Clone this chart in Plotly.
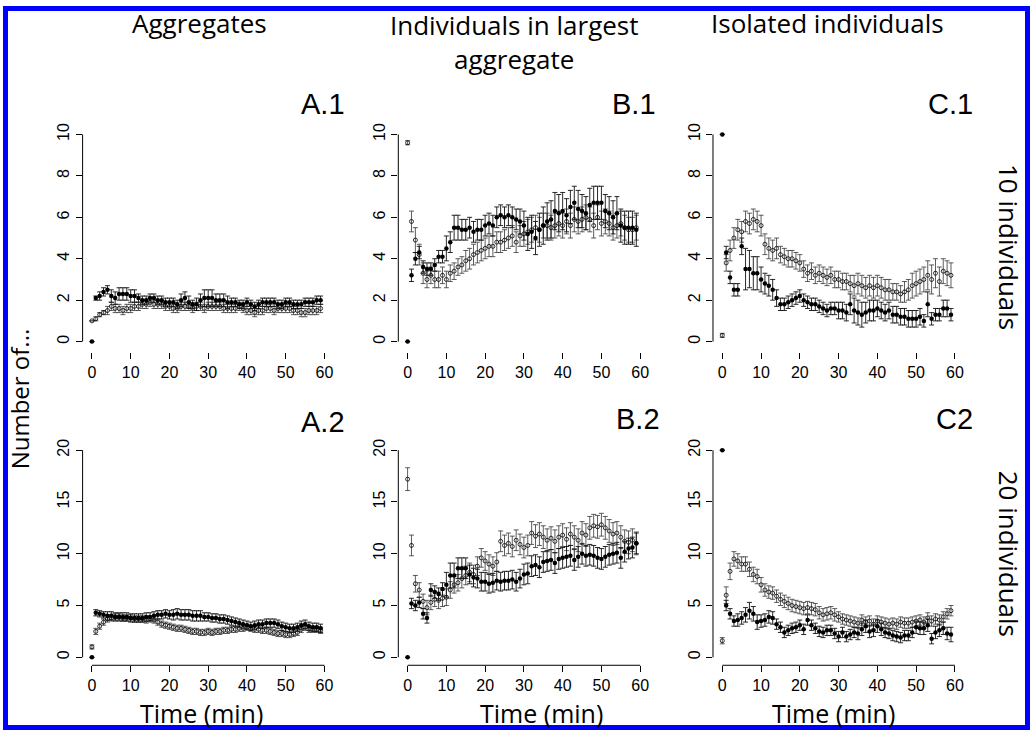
import plotly.graph_objects as go

# ---------------- data ----------------
time_min = list(range(60))

A1_filled = [0.0, 2.1, 2.2, 2.4, 2.5, 2.2, 2.1, 2.3, 2.3, 2.3,
             2.2, 2.2, 2.1, 2.0, 2.0, 2.1, 2.1, 2.0, 2.0, 1.9,
             1.9, 1.9, 1.8, 2.0, 2.1, 1.9, 1.8, 1.8, 2.0, 2.1,
             2.1, 2.1, 2.0, 2.0, 2.0, 1.9, 1.9, 1.9, 1.8, 1.8,
             1.9, 1.8, 1.7, 1.8, 1.9, 1.9, 1.9, 1.9, 1.8, 1.8,
             1.9, 1.9, 1.8, 1.8, 1.8, 1.9, 1.9, 1.9, 2.0, 2.0]
A1_filled_err = [0.0, 0.1, 0.2, 0.2, 0.2, 0.3, 0.3, 0.3, 0.3, 0.3,
                 0.3, 0.3, 0.2, 0.2, 0.2, 0.2, 0.2, 0.2, 0.2, 0.2,
                 0.2, 0.2, 0.2, 0.3, 0.3, 0.3, 0.2, 0.3, 0.3, 0.4,
                 0.4, 0.4, 0.3, 0.3, 0.3, 0.3, 0.2, 0.2, 0.2, 0.2,
                 0.2, 0.2, 0.2, 0.2, 0.2, 0.2, 0.2, 0.2, 0.2, 0.2,
                 0.2, 0.2, 0.2, 0.2, 0.2, 0.2, 0.2, 0.2, 0.2, 0.2]
A1_open = [1.0, 1.1, 1.3, 1.4, 1.5, 1.7, 1.6, 1.6, 1.5, 1.6,
           1.6, 1.7, 1.7, 1.8, 1.8, 1.9, 1.8, 1.8, 1.8, 1.7,
           1.7, 1.6, 1.6, 1.7, 1.7, 1.7, 1.6, 1.7, 1.7, 1.6,
           1.7, 1.7, 1.7, 1.7, 1.6, 1.6, 1.6, 1.6, 1.7, 1.6,
           1.5, 1.5, 1.4, 1.5, 1.5, 1.6, 1.6, 1.5, 1.6, 1.6,
           1.6, 1.6, 1.5, 1.5, 1.4, 1.4, 1.5, 1.5, 1.5, 1.6]
A1_open_err = [0.0, 0.1, 0.1, 0.1, 0.2, 0.2, 0.2, 0.2, 0.2, 0.2,
               0.2, 0.2, 0.2, 0.2, 0.2, 0.2, 0.2, 0.2, 0.2, 0.2,
               0.2, 0.2, 0.2, 0.2, 0.2, 0.2, 0.2, 0.2, 0.2, 0.2,
               0.2, 0.2, 0.2, 0.2, 0.2, 0.2, 0.2, 0.2, 0.2, 0.2,
               0.2, 0.2, 0.2, 0.2, 0.2, 0.2, 0.2, 0.2, 0.2, 0.2,
               0.2, 0.2, 0.2, 0.2, 0.2, 0.2, 0.2, 0.2, 0.2, 0.2]

A2_filled = [0.0, 4.3, 4.2, 4.1, 4.0, 4.0, 3.9, 3.9, 3.9, 3.9,
             3.8, 3.8, 3.8, 3.8, 3.9, 3.9, 4.0, 4.1, 4.1, 4.2,
             4.1, 4.1, 4.2, 4.1, 4.1, 4.1, 4.0, 4.0, 4.0, 3.9,
             3.9, 3.8, 3.8, 3.7, 3.7, 3.6, 3.5, 3.4, 3.3, 3.2,
             3.1, 3.0, 3.1, 3.2, 3.2, 3.3, 3.3, 3.3, 3.2, 3.0,
             2.9, 2.8, 2.8, 2.9, 3.1, 3.2, 3.0, 2.9, 2.9, 2.8]
A2_filled_err = [0.0, 0.3, 0.3, 0.3, 0.4, 0.4, 0.4, 0.4, 0.4, 0.4,
                 0.4, 0.4, 0.4, 0.4, 0.4, 0.4, 0.4, 0.4, 0.4, 0.4,
                 0.4, 0.5, 0.5, 0.5, 0.5, 0.5, 0.5, 0.5, 0.5, 0.4,
                 0.4, 0.4, 0.4, 0.4, 0.4, 0.4, 0.4, 0.4, 0.4, 0.4,
                 0.4, 0.4, 0.4, 0.4, 0.4, 0.4, 0.4, 0.4, 0.4, 0.4,
                 0.4, 0.4, 0.4, 0.4, 0.4, 0.4, 0.4, 0.4, 0.4, 0.4]
A2_open = [1.0, 2.5, 3.0, 3.4, 3.7, 3.8, 3.9, 3.9, 3.8, 3.8,
           3.8, 3.7, 3.7, 3.7, 3.6, 3.7, 3.6, 3.4, 3.2, 3.1,
           3.0, 2.9, 2.8, 2.8, 2.7, 2.6, 2.5, 2.5, 2.4, 2.4,
           2.5, 2.4, 2.5, 2.5, 2.6, 2.6, 2.7, 2.7, 2.8, 2.8,
           2.9, 2.8, 2.7, 2.7, 2.6, 2.6, 2.5, 2.4, 2.3, 2.3,
           2.2, 2.2, 2.3, 2.4, 2.7, 2.9, 2.7, 2.7, 2.7, 2.6]
A2_open_err = [0.2, 0.3, 0.3, 0.3, 0.3, 0.3, 0.3, 0.3, 0.3, 0.3,
               0.3, 0.3, 0.3, 0.3, 0.3, 0.3, 0.3, 0.3, 0.3, 0.3,
               0.3, 0.3, 0.3, 0.3, 0.3, 0.3, 0.3, 0.3, 0.3, 0.3,
               0.3, 0.3, 0.3, 0.3, 0.3, 0.3, 0.3, 0.3, 0.3, 0.3,
               0.3, 0.3, 0.3, 0.3, 0.3, 0.3, 0.3, 0.3, 0.3, 0.3,
               0.3, 0.3, 0.3, 0.3, 0.3, 0.3, 0.3, 0.3, 0.3, 0.3]

B1_filled = [0.0, 3.2, 4.0, 4.3, 3.6, 3.5, 3.5, 3.7, 4.1, 4.1,
             4.5, 4.8, 5.5, 5.5, 5.4, 5.4, 5.5, 5.3, 5.4, 5.4,
             5.6, 5.7, 5.6, 6.0, 6.1, 6.0, 6.1, 6.0, 5.9, 5.8,
             5.6, 5.2, 5.3, 5.0, 5.4, 5.6, 5.8, 5.9, 6.3, 6.2,
             6.3, 6.1, 6.5, 6.7, 6.4, 6.3, 6.2, 6.6, 6.7, 6.7,
             6.7, 6.3, 6.2, 6.0, 6.2, 5.6, 5.5, 5.5, 5.5, 5.4]
B1_filled_err = [0.0, 0.3, 0.3, 0.3, 0.3, 0.3, 0.3, 0.3, 0.3, 0.3,
                 0.6, 0.5, 0.6, 0.6, 0.5, 0.5, 0.5, 0.5, 0.5, 0.5,
                 0.5, 0.5, 0.5, 0.5, 0.5, 0.5, 0.5, 0.5, 0.5, 0.6,
                 0.7, 0.8, 0.8, 0.8, 0.8, 0.9, 0.9, 0.9, 0.9, 0.9,
                 0.9, 0.8, 0.8, 0.8, 0.9, 0.8, 0.8, 0.8, 0.8, 0.8,
                 0.8, 0.8, 0.8, 0.8, 0.8, 0.8, 0.8, 0.8, 0.8, 0.8]
B1_open = [9.6, 5.8, 4.9, 4.2, 3.3, 3.0, 3.2, 3.0, 3.0, 3.2,
           3.0, 3.3, 3.4, 3.6, 3.7, 3.9, 4.0, 4.2, 4.3, 4.4,
           4.5, 4.6, 4.6, 4.8, 4.8, 4.9, 5.0, 5.1, 4.8, 5.1,
           5.2, 5.3, 5.4, 5.5, 5.4, 5.6, 5.6, 5.5, 5.6, 5.7,
           5.6, 5.8, 5.6, 5.9, 5.8, 5.9, 6.0, 5.9, 5.6, 6.0,
           5.7, 5.8, 5.7, 5.5, 5.6, 5.7, 5.5, 5.4, 5.4, 5.5]
B1_open_err = [0.1, 0.5, 0.6, 0.5, 0.5, 0.4, 0.4, 0.4, 0.4, 0.4,
               0.4, 0.4, 0.4, 0.4, 0.4, 0.5, 0.5, 0.5, 0.5, 0.5,
               0.5, 0.5, 0.5, 0.5, 0.5, 0.5, 0.5, 0.5, 0.5, 0.5,
               0.6, 0.6, 0.6, 0.6, 0.6, 0.6, 0.6, 0.6, 0.6, 0.6,
               0.6, 0.6, 0.6, 0.6, 0.6, 0.6, 0.6, 0.6, 0.6, 0.6,
               0.6, 0.6, 0.6, 0.6, 0.6, 0.6, 0.6, 0.6, 0.6, 0.6]

B2_filled = [0.0, 5.2, 5.0, 5.3, 4.2, 3.8, 6.5, 6.3, 6.1, 6.6,
             7.0, 7.9, 7.9, 8.6, 8.6, 8.6, 8.0, 7.7, 7.6, 7.3,
             7.3, 7.1, 7.2, 7.4, 7.3, 7.4, 7.4, 7.5, 7.3, 7.6,
             8.0, 8.1, 8.8, 8.9, 8.7, 9.2, 9.3, 9.4, 9.1, 9.5,
             9.6, 9.7, 9.8, 9.4, 9.7, 10.0, 9.8, 9.9, 9.8, 9.6,
             9.5, 9.7, 9.9, 10.0, 10.1, 9.6, 10.2, 10.5, 10.6, 11.0]
B2_filled_err = [0.0, 0.5, 0.5, 0.5, 0.5, 0.5, 0.6, 0.6, 0.6, 0.6,
                 1.2, 1.2, 1.2, 1.0, 1.0, 1.0, 0.9, 0.9, 0.9, 0.9,
                 0.9, 0.9, 0.9, 0.9, 0.9, 0.9, 0.9, 0.9, 0.9, 0.9,
                 1.0, 1.0, 1.0, 1.0, 1.0, 1.0, 1.0, 1.0, 1.0, 1.0,
                 1.0, 1.0, 1.0, 1.0, 1.0, 1.0, 1.0, 1.0, 1.0, 1.0,
                 1.0, 1.0, 1.0, 1.0, 1.0, 1.0, 1.0, 1.0, 1.0, 1.0]
B2_open = [17.2, 10.8, 7.1, 6.5, 5.4, 4.8, 5.3, 5.6, 5.5, 5.7,
           5.8, 6.5, 7.0, 7.2, 7.6, 7.9, 8.2, 8.0, 8.8, 9.6,
           9.3, 9.0, 8.8, 9.2, 11.2, 10.8, 11.0, 10.7, 11.3, 10.9,
           10.6, 10.8, 12.0, 11.7, 11.9, 11.6, 11.3, 11.5, 11.2, 11.6,
           11.8, 11.4, 11.9, 11.6, 11.3, 12.0, 11.8, 12.5, 12.7, 12.6,
           12.8, 12.5, 12.2, 11.9, 12.0, 11.6, 11.2, 11.1, 11.3, 11.0]
B2_open_err = [1.1, 1.0, 0.8, 0.7, 0.7, 0.7, 0.7, 0.7, 0.8, 0.8,
               0.8, 0.8, 0.8, 0.8, 0.9, 0.9, 0.9, 0.9, 0.9, 0.9,
               0.9, 0.9, 0.9, 0.9, 1.0, 1.0, 1.0, 1.0, 1.0, 1.0,
               1.0, 1.0, 1.1, 1.1, 1.1, 1.1, 1.1, 1.1, 1.1, 1.1,
               1.1, 1.1, 1.1, 1.1, 1.1, 1.1, 1.1, 1.1, 1.1, 1.1,
               1.1, 1.1, 1.1, 1.1, 1.1, 1.1, 1.1, 1.1, 1.1, 1.1]

C1_filled = [10.0, 4.3, 3.1, 2.5, 2.5, 4.6, 3.5, 3.5, 3.3, 3.3,
             3.0, 2.8, 2.7, 2.5, 2.1, 1.8, 1.8, 1.9, 2.0, 2.1,
             2.2, 2.0, 1.9, 1.8, 1.8, 1.7, 1.6, 1.5, 1.6, 1.6,
             1.5, 1.5, 1.4, 1.8, 1.5, 1.4, 1.3, 1.4, 1.5, 1.5,
             1.6, 1.5, 1.4, 1.5, 1.3, 1.3, 1.2, 1.2, 1.1, 1.1,
             1.1, 1.2, 1.0, 1.8, 1.1, 1.3, 1.3, 1.6, 1.6, 1.3]
C1_filled_err = [0.0, 0.3, 0.3, 0.3, 0.3, 0.4, 1.0, 0.9, 0.8, 0.8,
                 0.6, 0.5, 0.5, 0.5, 0.4, 0.3, 0.3, 0.3, 0.3, 0.3,
                 0.3, 0.3, 0.3, 0.3, 0.3, 0.3, 0.3, 0.3, 0.3, 0.3,
                 0.4, 0.4, 0.4, 0.5, 0.6, 0.6, 0.6, 0.5, 0.5, 0.5,
                 0.4, 0.4, 0.4, 0.4, 0.4, 0.4, 0.4, 0.4, 0.4, 0.4,
                 0.4, 0.4, 0.3, 0.6, 0.3, 0.3, 0.3, 0.4, 0.4, 0.3]
C1_open = [0.3, 3.8, 4.4, 5.0, 5.4, 5.3, 5.8, 5.7, 5.9, 5.8,
           5.6, 4.7, 4.5, 4.4, 4.5, 4.2, 4.1, 4.0, 4.0, 3.9,
           3.8, 3.5, 3.3, 3.4, 3.2, 3.3, 3.2, 3.1, 3.2, 3.0,
           3.0, 2.9, 2.9, 2.8, 2.7, 2.8, 2.7, 2.6, 2.7, 2.6,
           2.7, 2.6, 2.5, 2.5, 2.4, 2.4, 2.3, 2.4, 2.5, 2.7,
           2.8, 2.9, 3.0, 3.2, 3.0, 3.3, 2.9, 3.4, 3.3, 3.2]
C1_open_err = [0.1, 0.4, 0.5, 0.5, 0.5, 0.5, 0.5, 0.5, 0.5, 0.5,
               0.5, 0.5, 0.5, 0.5, 0.5, 0.4, 0.4, 0.4, 0.4, 0.4,
               0.4, 0.4, 0.4, 0.4, 0.4, 0.4, 0.4, 0.4, 0.4, 0.4,
               0.4, 0.4, 0.4, 0.4, 0.5, 0.5, 0.5, 0.5, 0.5, 0.5,
               0.5, 0.5, 0.5, 0.5, 0.4, 0.4, 0.4, 0.5, 0.5, 0.6,
               0.6, 0.6, 0.6, 0.7, 0.7, 0.7, 0.7, 0.6, 0.6, 0.6]

C2_filled = [20.0, 5.0, 4.2, 3.5, 3.6, 3.8, 4.1, 4.5, 4.2, 3.4,
             3.5, 3.6, 3.9, 3.8, 3.2, 2.9, 2.4, 2.6, 2.8, 2.9,
             3.1, 2.7, 3.6, 3.1, 2.8, 2.5, 2.4, 2.6, 2.6, 2.3,
             2.0, 2.4, 2.0, 2.2, 2.4, 2.3, 2.7, 3.0, 2.5, 2.6,
             3.0, 2.7, 2.4, 2.3, 2.1, 2.0, 1.9, 2.1, 2.1, 2.4,
             2.9, 2.8, 2.8, 3.1, 1.8, 2.4, 2.6, 2.8, 2.3, 2.2]
C2_filled_err = [0.0, 0.5, 0.5, 0.5, 0.6, 0.6, 0.7, 0.8, 0.7, 0.7,
                 0.6, 0.6, 0.6, 0.6, 0.5, 0.5, 0.5, 0.5, 0.5, 0.5,
                 0.5, 0.5, 0.5, 0.5, 0.5, 0.5, 0.5, 0.5, 0.5, 0.5,
                 0.5, 0.5, 0.5, 0.5, 0.5, 0.6, 0.6, 0.6, 0.6, 0.6,
                 0.6, 0.6, 0.5, 0.5, 0.5, 0.5, 0.5, 0.5, 0.5, 0.5,
                 0.6, 0.6, 0.6, 0.6, 0.5, 0.6, 0.6, 0.6, 0.6, 0.7]
C2_open = [1.6, 6.0, 8.3, 9.5, 9.3, 9.0, 9.0, 8.5, 8.0, 7.8,
           7.0, 6.5, 6.3, 6.2, 5.9, 5.6, 5.4, 5.2, 5.0, 4.9,
           4.8, 4.7, 4.8, 4.7, 4.6, 4.3, 4.1, 4.2, 4.3, 4.1,
           3.9, 3.7, 3.6, 3.5, 3.4, 3.3, 3.6, 3.4, 3.5, 3.2,
           3.5, 3.4, 3.3, 3.2, 3.3, 3.2, 3.4, 3.3, 3.3, 3.4,
           3.5, 3.6, 3.4, 3.8, 3.5, 3.7, 3.6, 3.9, 4.2, 4.5]
C2_open_err = [0.3, 0.8, 0.8, 0.7, 0.7, 0.7, 0.7, 0.7, 0.7, 0.7,
               0.7, 0.6, 0.6, 0.6, 0.6, 0.6, 0.6, 0.6, 0.6, 0.6,
               0.6, 0.6, 0.6, 0.6, 0.6, 0.6, 0.6, 0.6, 0.6, 0.6,
               0.5, 0.5, 0.5, 0.5, 0.5, 0.5, 0.5, 0.5, 0.5, 0.5,
               0.5, 0.5, 0.5, 0.5, 0.5, 0.5, 0.5, 0.5, 0.5, 0.5,
               0.5, 0.5, 0.5, 0.5, 0.5, 0.5, 0.5, 0.5, 0.5, 0.5]

x_ticks = [0, 10, 20, 30, 40, 50, 60]
y_ticks_10 = [0, 2, 4, 6, 8, 10]
y_ticks_20 = [0, 5, 10, 15, 20]

column_titles = ["Aggregates", "Individuals in largest<br>aggregate", "Isolated individuals"]
panel_labels = ["A.1", "B.1", "C.1", "A.2", "B.2", "C2"]
row_labels = ["10 individuals", "20 individuals"]

# ---------------- layout geometry (pixels) ----------------
W, H = 1031, 730
COL_X0 = [92, 408, 723]          # pixel of t = 0 in each column
PX_X = 3.88                      # pixels per minute
X_LO, X_HI = -2.4, 62.0
ROW_Y0 = [340, 657]              # pixel of value 0
ROW_AXIS = [350, 665]            # pixel of x axis
PX_Y = [20.8, 10.4]
ROW_MAX = [10, 20]
ROW_TICKS = [y_ticks_10, y_ticks_20]

panels = [
    (0, 0, A1_filled, A1_filled_err, A1_open, A1_open_err),
    (0, 1, B1_filled, B1_filled_err, B1_open, B1_open_err),
    (0, 2, C1_filled, C1_filled_err, C1_open, C1_open_err),
    (1, 0, A2_filled, A2_filled_err, A2_open, A2_open_err),
    (1, 1, B2_filled, B2_filled_err, B2_open, B2_open_err),
    (1, 2, C2_filled, C2_filled_err, C2_open, C2_open_err),
]

TICK_FONT = dict(family="Liberation Sans, Arial, sans-serif", size=16, color="black")
TITLE_FONT = "Open Sans, DejaVu Sans, sans-serif"
LABEL_FONT = "Liberation Sans, Arial, sans-serif"

fig = go.Figure()
shapes = []
layout_axes = {}

for i, (r, c, yf, yfe, yo, yoe) in enumerate(panels):
    n = i + 1
    xs = "" if n == 1 else str(n)
    x0 = COL_X0[c]
    dom_x = [(x0 + X_LO * PX_X) / W, (x0 + X_HI * PX_X) / W]
    y_lo = -(ROW_AXIS[r] - ROW_Y0[r]) / PX_Y[r]
    top_px = ROW_Y0[r] - ROW_MAX[r] * PX_Y[r] - 8
    y_hi = ROW_MAX[r] + 8 / PX_Y[r]
    dom_y = [1 - ROW_AXIS[r] / H, 1 - top_px / H]

    layout_axes["xaxis" + xs] = dict(
        domain=dom_x, range=[X_LO, X_HI], anchor="y" + xs,
        tickvals=x_ticks, ticks="outside", ticklen=6, tickwidth=1,
        tickcolor="black", showline=False, showgrid=False, zeroline=False,
        tickfont=TICK_FONT, fixedrange=True,
    )
    layout_axes["yaxis" + xs] = dict(
        domain=dom_y, range=[y_lo, y_hi], anchor="x" + xs,
        tickvals=ROW_TICKS[r], ticks="outside", ticklen=6, tickwidth=1,
        tickcolor="black", showline=False, showgrid=False, zeroline=False,
        tickangle=-90, tickfont=TICK_FONT, fixedrange=True,
    )

    # open circles
    fig.add_trace(go.Scatter(
        x=time_min, y=yo, mode="markers", xaxis="x" + xs, yaxis="y" + xs,
        marker=dict(symbol="circle-open", size=4, color="black", line=dict(width=0.8)),
        error_y=dict(type="data", array=yoe, visible=True, color="#333333",
                     thickness=0.8, width=2.5),
        showlegend=False, hoverinfo="skip",
    ))
    # filled circles
    fig.add_trace(go.Scatter(
        x=time_min, y=yf, mode="markers", xaxis="x" + xs, yaxis="y" + xs,
        marker=dict(symbol="circle", size=4.5, color="black"),
        error_y=dict(type="data", array=yfe, visible=True, color="#111111",
                     thickness=0.9, width=2.5),
        showlegend=False, hoverinfo="skip",
    ))

    # R-style y axis line spanning the tick range only
    ax_left = dom_x[0]
    shapes.append(dict(type="line", xref="paper", yref="paper",
                       x0=ax_left, x1=ax_left,
                       y0=1 - ROW_Y0[r] / H,
                       y1=1 - (ROW_Y0[r] - ROW_MAX[r] * PX_Y[r]) / H,
                       line=dict(color="black", width=1)))
    # x axis line (visible in the bottom row only)
    if r == 1:
        shapes.append(dict(type="line", xref="paper", yref="paper",
                           x0=x0 / W, x1=(x0 + 60 * PX_X) / W,
                           y0=1 - ROW_AXIS[r] / H, y1=1 - ROW_AXIS[r] / H,
                           line=dict(color="black", width=1)))

# blue frame
shapes.append(dict(type="rect", xref="paper", yref="paper",
                   x0=5.5 / W, x1=1 - 2.5 / W, y0=2.5 / H, y1=1 - 5.5 / H,
                   line=dict(color="#0000FF", width=5), fillcolor="rgba(0,0,0,0)"))

def px(xp, yp):
    return xp / W, 1 - yp / H

annotations = []

def add_text(text, xp, yp, size, family, angle=0, yanchor="middle"):
    xx, yy = px(xp, yp)
    annotations.append(dict(text=text, x=xx, y=yy, xref="paper", yref="paper",
                            xanchor="center", yanchor=yanchor, showarrow=False,
                            textangle=angle,
                            font=dict(family=family, size=size, color="black")))

# column titles
add_text(column_titles[0], 200, 20, 26, TITLE_FONT)
add_text(column_titles[1], 515, 2, 26, TITLE_FONT, yanchor="top")
add_text(column_titles[2], 828, 20, 26, TITLE_FONT)

# panel labels
label_pos = [(323, 101), (635, 101), (951, 101), (323, 421), (639, 418), (955, 418)]
for lab, (lx, ly) in zip(panel_labels, label_pos):
    add_text(lab, lx, ly, 29, LABEL_FONT)

# x titles
for cx in [202, 542, 834]:
    add_text("Time (min)", cx, 713, 25, TITLE_FONT)

# y title
add_text("Number of...", 19, 397, 24, TITLE_FONT, angle=-90)

# row labels on the right
add_text(row_labels[0], 1010, 245, 26, TITLE_FONT, angle=90)
add_text(row_labels[1], 1010, 553, 26, TITLE_FONT, angle=90)

fig.update_layout(
    width=W, height=H, margin=dict(l=0, r=0, t=0, b=0),
    paper_bgcolor="white", plot_bgcolor="white",
    showlegend=False, shapes=shapes, annotations=annotations,
    **layout_axes,
)

fig.write_html("out.html", config={"displayModeBar": False},
               post_script="document.body.style.margin='0';document.body.style.overflow='hidden';")
